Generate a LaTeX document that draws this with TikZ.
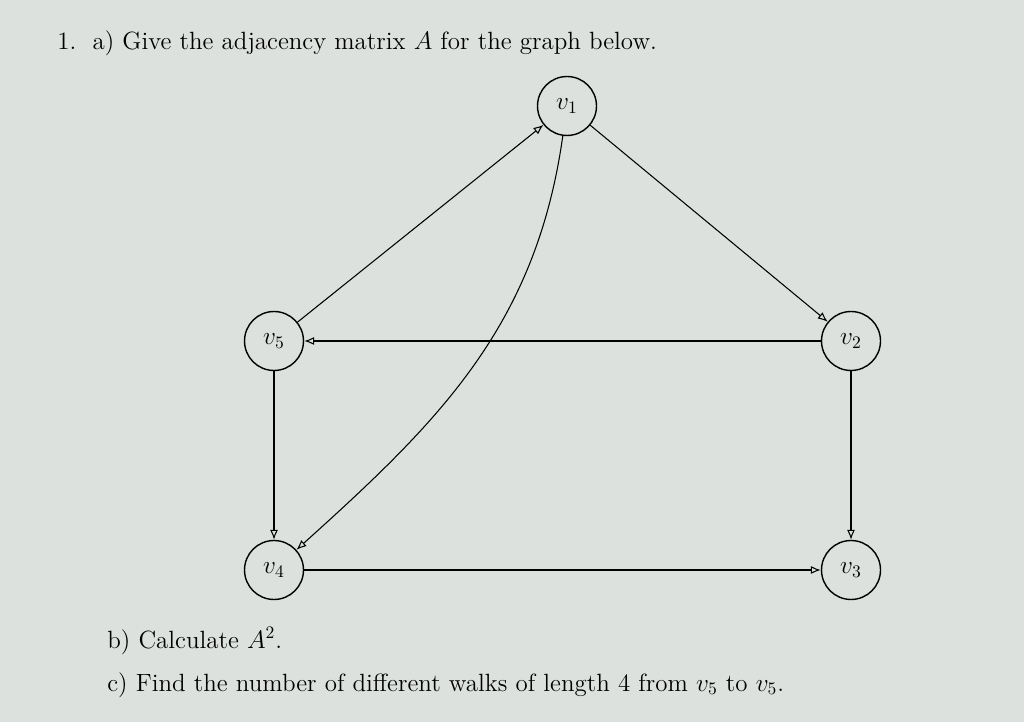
\documentclass[tikz,border=0pt]{standalone}
\usepackage{amsmath}
\usetikzlibrary{arrows.meta}
\definecolor{fond}{RGB}{221,225,221}
\begin{document}
\begin{tikzpicture}[x=0.02cm,y=-0.02cm]
  \tikzstyle{sommet}=[circle, draw=black, thick, fill=fond, text=black,
  minimum size=1.18cm, inner sep=0pt, font=\Large]
  \tikzstyle{arc}=[-{Latex[open,length=2mm,width=1.6mm]},semithick]
  \tikzstyle{texte}=[anchor=base west, inner sep=0pt, font=\fontsize{14.2}{17}\selectfont]
  \fill[fond] (0,0) rectangle (1024,722);
  \useasboundingbox (0,0) rectangle (1024,722);
  \foreach \n/\k/\x/\y in {v1/1/567/106,v2/2/851/341,v3/3/851/570,v4/4/274/570,v5/5/274/341} {
    \node[sommet] (\n) at (\x,\y) {$v_{\k}$};
  }
  \foreach \a/\b in {v5/v1,v1/v2,v2/v5,v5/v4,v2/v3,v4/v3} {
    \draw[arc] (\a) -- (\b);
  }
  \draw[arc] (v1) to[out=-98,in=42] (v4);
  % questions
  \node[texte] (qa) at (57,50) {1.\ \ a)\ Give the adjacency matrix $A$ for the graph below.};
  \node[texte] (qb) at (107,648) {b)\ Calculate $A^2$.};
  \node[texte] (qc) at (107,691) {c)\ Find the number of different walks of length 4 from $v_5$ to $v_5$.};
\end{tikzpicture}
\end{document}
